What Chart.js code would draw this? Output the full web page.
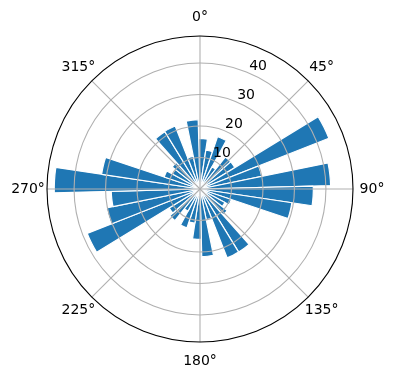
<!DOCTYPE html>
<html>
<head>
<meta charset="utf-8">
<script src="https://cdn.jsdelivr.net/npm/chart.js@4/dist/chart.umd.min.js"></script>
<style>
  html, body { margin: 0; padding: 0; background: #fff; }
  canvas { display: block; }
</style>
</head>
<body>
<canvas id="c" width="396" height="380"></canvas>
<script>
// 36 direction bins (10° each), clockwise from north
const DIRECTIONS = ['0°','10°','20°','30°','40°','50°','60°','70°','80°','90°','100°','110°',
                    '120°','130°','140°','150°','160°','170°','180°','190°','200°','210°','220°','230°',
                    '240°','250°','260°','270°','280°','290°','300°','310°','320°','330°','340°','350°'];
const VALUES = [16, 12.5, 17.5, 8, 13, 13, 44, 20, 41.5, 36, 29.5, 10.5,
                9, 11, 23.5, 23.5, 10, 21.5, 16, 11, 13, 8, 12.8, 11.5,
                38.5, 30.3, 28.2, 46.3, 31.6, 12, 10, 11.3, 21.3, 21.5, 10.6, 22];
const R_TICKS = [10, 20, 30, 40];
const R_MAX = 48.6;
const ANGLE_TICKS = [0, 45, 90, 135, 180, 225, 270, 315];
const ANGLE_LABELS = ['0°', '45°', '90°', '135°', '180°', '225°', '270°', '315°'];

const BAR_COLOR = '#1f77b4';
const GRID_COLOR = '#b0b0b0';

Chart.defaults.font.family = "'DejaVu Sans', sans-serif";

const overlay = {
  id: 'overlay',
  afterDatasetsDraw(chart) {
    const s = chart.scales.r;
    const ctx = chart.ctx;
    const cx = s.xCenter, cy = s.yCenter;
    const R = s.getDistanceFromCenterForValue(R_MAX);
    ctx.save();
    ctx.strokeStyle = GRID_COLOR;
    ctx.lineWidth = 1.1;
    ANGLE_TICKS.forEach(d => {
      const a = d * Math.PI / 180;
      ctx.beginPath();
      ctx.moveTo(cx, cy);
      ctx.lineTo(cx + R * Math.sin(a), cy - R * Math.cos(a));
      ctx.stroke();
    });
    ctx.restore();
  },
  afterDraw(chart) {
    const s = chart.scales.r;
    const ctx = chart.ctx;
    const cx = s.xCenter, cy = s.yCenter;
    const R = s.getDistanceFromCenterForValue(R_MAX);
    ctx.save();
    ctx.fillStyle = '#000';
    ctx.font = "14px 'DejaVu Sans'";
    // angular labels
    ctx.textAlign = 'center';
    ctx.textBaseline = 'middle';
    ANGLE_TICKS.forEach((d, i) => {
      const a = d * Math.PI / 180;
      const rr = R + 19;
      ctx.fillText(ANGLE_LABELS[i], cx + rr * Math.sin(a), cy - rr * Math.cos(a));
    });
    // radial tick labels along 22.5°
    const la = 22.5 * Math.PI / 180;
    ctx.textAlign = 'left';
    ctx.textBaseline = 'alphabetic';
    R_TICKS.forEach(v => {
      const d = s.getDistanceFromCenterForValue(v);
      const x = cx + d * Math.sin(la), y = cy - d * Math.cos(la);
      ctx.fillText(String(v), x + 1, y - 3);
    });
    ctx.restore();
  }
};

new Chart(document.getElementById('c'), {
  type: 'polarArea',
  data: {
    labels: DIRECTIONS,
    datasets: [{
      data: VALUES,
      backgroundColor: BAR_COLOR,
      borderColor: '#ffffff',
      borderWidth: 1.2
    }]
  },
  options: {
    responsive: false,
    animation: false,
    layout: { padding: { left: 47, right: 42, top: 36, bottom: 37 } },
    plugins: { legend: { display: false }, tooltip: { enabled: false } },
    scales: {
      r: {
        min: 0,
        max: R_MAX,
        startAngle: -1.5,
        afterBuildTicks: (scale) => {
          scale.ticks = [0, ...R_TICKS, R_MAX].map(v => ({ value: v }));
        },
        ticks: { display: false },
        grid: {
          z: 1,
          circular: true,
          color: (c) => (c.tick && c.tick.value === R_MAX) ? '#000000' : GRID_COLOR,
          lineWidth: (c) => 1.1
        },
        angleLines: { display: false },
        pointLabels: { display: false }
      }
    }
  },
  plugins: [overlay]
});
</script>
</body>
</html>
